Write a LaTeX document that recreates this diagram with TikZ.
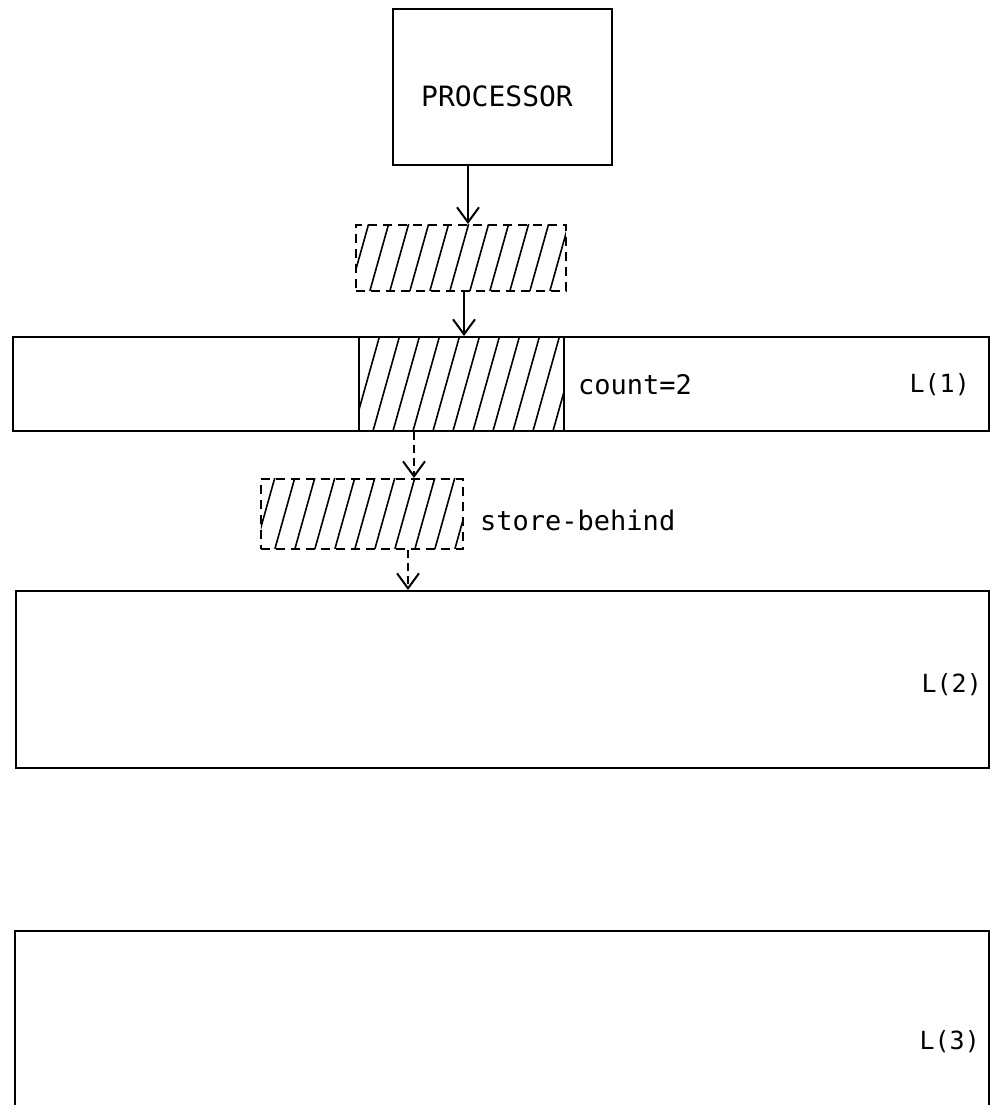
\documentclass[tikz,border=0pt]{standalone}
\usepackage{fontspec}
\setmainfont{DejaVu Sans Mono}
\usetikzlibrary{arrows.meta,calc}
\tikzset{
  ln/.style={line width=2pt},
  boxn/.style={draw,ln,anchor=north west,inner sep=0pt,minimum width=#1},
  dashbox/.style={draw,line width=1.8pt,dash pattern=on 9pt off 6pt,anchor=north west,inner sep=0pt},
  hatch/.style={path picture={
     \foreach \k in {-6,...,14}{
       \draw[solid,line width=1.6pt] ($(path picture bounding box.south west)+(\k*20pt-6pt,0pt)$) -- ++(28pt,100pt);
     }}},
  arr/.style={ln,-{Straight Barb[length=15pt,width=22pt,line width=2pt]}},
  darr/.style={arr,dash pattern=on 8pt off 5pt},
  lab/.style={font=\fontsize{27}{29}\selectfont,inner sep=0pt},
  llab/.style={font=\fontsize{25}{27}\selectfont,inner sep=0pt,anchor=east},
}
\begin{document}
\begin{tikzpicture}[x=1pt,y=-1pt]
\clip (0,0) rectangle (992,1105);
\useasboundingbox (0,0) rectangle (992,1105);
\fill[white] (0,0) rectangle (992,1105);

\node[boxn=219pt,minimum height=156pt] (proc) at (392,8) {};
\node[lab,font=\fontsize{28}{30}\selectfont] (proct) at (497,96) {PROCESSOR};

\node[dashbox,hatch,minimum width=210pt,minimum height=66pt] (buf1) at (355,224) {};

\node[boxn=976pt,minimum height=94pt] (L1) at (12,336) {};
\node[draw,ln,hatch,anchor=north west,inner sep=0pt,minimum width=205pt,minimum height=94pt] (h1) at (358,336) {};
\node[lab,anchor=west] (cnt) at (578,385) {count=2};
\node[llab] (l1t) at (970,385) {L(1)};

\node[dashbox,hatch,minimum width=202pt,minimum height=70pt] (buf2) at (260,478) {};
\node[lab,anchor=west] (sb) at (480,520) {store-behind};

\node[boxn=973pt,minimum height=177pt] (L2) at (15,590) {};
\node[llab] (l2t) at (982,685) {L(2)};

\node[boxn=974pt,minimum height=200pt] (L3) at (14,930) {};
\node[llab] (l3t) at (980,1042) {L(3)};

\coordinate (c1) at (468,0);
\coordinate (c2) at (464,0);
\coordinate (c3) at (414,0);
\coordinate (c4) at (408,0);
\draw[arr] (proc.south -| c1) -- (buf1.north -| c1);
\draw[arr] (buf1.south -| c2) -- (L1.north -| c2);
\draw[darr] (L1.south -| c3) -- (buf2.north -| c3);
\draw[darr] (buf2.south -| c4) -- (L2.north -| c4);
\end{tikzpicture}
\end{document}
